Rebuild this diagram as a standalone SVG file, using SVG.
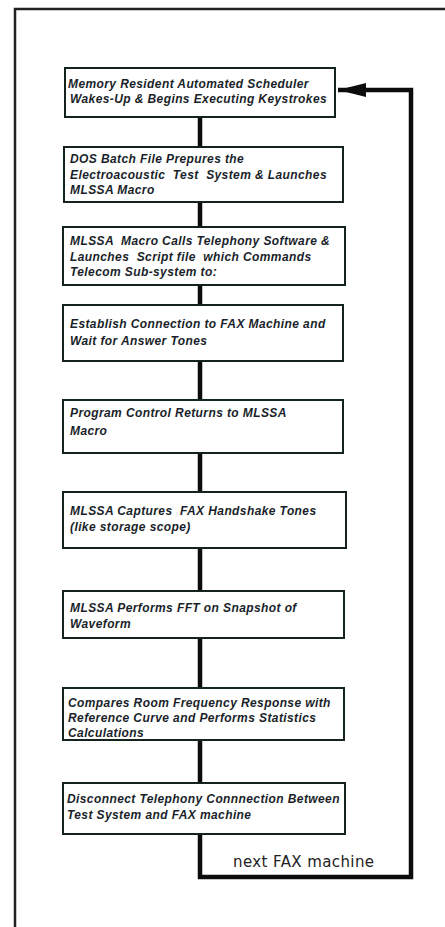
<svg xmlns="http://www.w3.org/2000/svg" width="445" height="927" viewBox="0 0 445 927">
<style>
.box{fill:#fff;stroke:#14231e;stroke-width:2}
.t{font-family:"Liberation Sans",Arial,sans-serif;font-weight:bold;font-style:italic;font-size:12px;letter-spacing:0.4px;fill:#1a1f2a;white-space:pre}
.conn{fill:none;stroke:#0c0c0c;stroke-width:4.5}
.lbl{font-family:"DejaVu Sans",sans-serif;font-size:15px;letter-spacing:0.4px;fill:#222}
</style>
<defs>
<marker id="ah" markerWidth="30" markerHeight="16" refX="28" refY="8" orient="auto" markerUnits="userSpaceOnUse">
<path d="M0,1 L28,8 L0,15 Z" fill="#0c0c0c"/>
</marker>
</defs>
<rect width="445" height="927" fill="#fff"/>
<path d="M15,927 L15,9 L445,9" fill="none" stroke="#222" stroke-width="2.5"/>
<g id="connectors">
<line class="conn" x1="200" y1="117" x2="200" y2="147"/>
<line class="conn" x1="200" y1="202" x2="200" y2="227"/>
<line class="conn" x1="200" y1="285" x2="200" y2="305"/>
<line class="conn" x1="200" y1="361" x2="200" y2="400"/>
<line class="conn" x1="200" y1="453" x2="200" y2="492"/>
<line class="conn" x1="200" y1="548" x2="200" y2="591"/>
<line class="conn" x1="200" y1="638" x2="200" y2="688"/>
<line class="conn" x1="200" y1="740" x2="200" y2="783"/>
<path class="conn" d="M200,834 L200,877 L411,877 L411,90 L338,90" marker-end="url(#ah)"/>
<text class="lbl" x="233" y="867">next FAX machine</text>
</g>
<g id="n1">
<rect class="box" x="65" y="68" width="270" height="49"/>
<text class="t" x="68" y="88">Memory Resident Automated Scheduler</text>
<text class="t" x="70" y="103">Wakes-Up &amp; Begins Executing Keystrokes</text>
</g>
<g id="n2">
<rect class="box" x="64" y="147" width="279" height="55"/>
<text class="t" x="70" y="163">DOS Batch File Prepures the</text>
<text class="t" x="70" y="179">Electroacoustic  Test  System &amp; Launches</text>
<text class="t" x="70" y="194">MLSSA Macro</text>
</g>
<g id="n3">
<rect class="box" x="63" y="227" width="282" height="58"/>
<text class="t" x="70" y="245">MLSSA  Macro Calls Telephony Software &amp;</text>
<text class="t" x="70" y="261">Launches  Script file  which Commands</text>
<text class="t" x="70" y="276">Telecom Sub-system to:</text>
</g>
<g id="n4">
<rect class="box" x="63" y="305" width="280" height="56"/>
<text class="t" x="70" y="328">Establish Connection to FAX Machine and</text>
<text class="t" x="70" y="345">Wait for Answer Tones</text>
</g>
<g id="n5">
<rect class="box" x="63" y="400" width="280" height="53"/>
<text class="t" x="70" y="417">Program Control Returns to MLSSA</text>
<text class="t" x="70" y="435">Macro</text>
</g>
<g id="n6">
<rect class="box" x="63" y="492" width="283" height="56"/>
<text class="t" x="70" y="515">MLSSA Captures  FAX Handshake Tones</text>
<text class="t" x="70" y="531">(like storage scope)</text>
</g>
<g id="n7">
<rect class="box" x="63" y="591" width="281" height="47"/>
<text class="t" x="70" y="612">MLSSA Performs FFT on Snapshot of</text>
<text class="t" x="70" y="628">Waveform</text>
</g>
<g id="n8">
<rect class="box" x="63" y="688" width="281" height="52"/>
<text class="t" x="68" y="707">Compares Room Frequency Response with</text>
<text class="t" x="68" y="722">Reference Curve and Performs Statistics</text>
<text class="t" x="68" y="737">Calculations</text>
</g>
<g id="n9">
<rect class="box" x="63" y="783" width="282" height="51"/>
<text class="t" x="67" y="803">Disconnect Telephony Connnection Between</text>
<text class="t" x="67" y="819">Test System and FAX machine</text>
</g>
</svg>
